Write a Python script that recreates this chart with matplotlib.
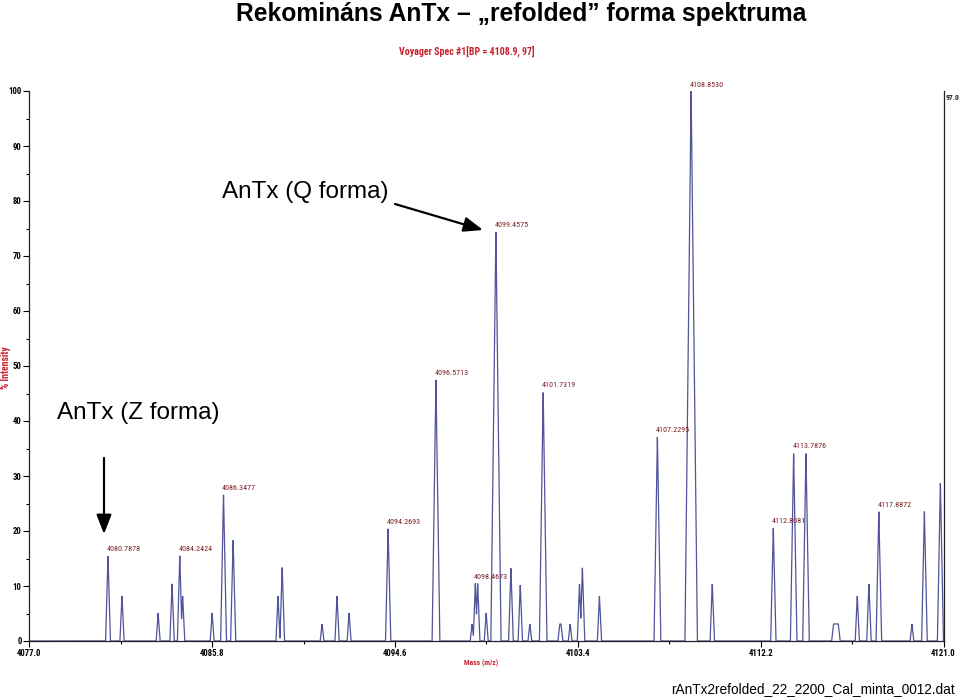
import numpy as np
import matplotlib
matplotlib.use("Agg")
import matplotlib.pyplot as plt
import matplotlib.font_manager as fm
from matplotlib.patches import FancyArrowPatch

# ---------------- data ----------------
peak_mz = [4080.7878, 4081.46, 4083.20, 4083.87, 4084.2424, 4084.38, 4085.80,
           4086.3477, 4086.81, 4088.97, 4089.17, 4091.09, 4091.81, 4092.39,
           4094.2693, 4096.5713, 4098.31, 4098.4673, 4098.58, 4098.99,
           4099.4575, 4100.18, 4100.63, 4101.09, 4101.7319, 4102.56, 4103.03,
           4103.48, 4103.62, 4104.44, 4107.2295, 4108.8530, 4109.87,
           4112.8081, 4113.7876, 4114.38, 4115.82, 4116.85, 4117.41,
           4117.8872, 4119.48, 4120.08, 4120.85]
peak_int = [15.5, 8.2, 5.1, 10.4, 15.5, 8.2, 5.1,
            26.7, 18.4, 8.2, 13.4, 3.1, 8.2, 5.1,
            20.5, 47.5, 3.1, 10.5, 10.5, 5.1,
            74.4, 13.3, 10.2, 3.1, 45.3, 3.1, 3.1,
            10.4, 13.3, 8.2, 37.1, 100.0, 10.4,
            20.6, 34.2, 34.2, 3.1, 8.2, 10.4,
            23.6, 3.1, 23.6, 28.8]
# flat-topped peaks: (centre -> top width in Da)
flat_tops = {4102.56: 0.06, 4115.82: 0.23}

labelled_mz = [4080.7878, 4084.2424, 4086.3477, 4094.2693, 4096.5713,
               4098.4673, 4099.4575, 4101.7319, 4107.2295, 4108.8530,
               4112.8081, 4113.7876, 4117.8872]

x_ticks = [4077.0, 4085.8, 4094.6, 4103.4, 4112.2, 4121.0]
y_ticks = [0, 10, 20, 30, 40, 50, 60, 70, 80, 90, 100]

title = "Rekomináns AnTx – „refolded” forma spektruma"
header = "Voyager Spec #1[BP = 4108.9, 97]"
x_label = "Mass (m/z)"
y_label = "% Intensity"
file_name = "rAnTx2refolded_22_2200_Cal_minta_0012.dat"
max_label = "97.0"

# ---------------- fonts ----------------
fonts = fm.fontManager.ttflist
names = {f.name for f in fonts}
narrow_family = None
for cand in ["Liberation Sans Narrow", "Arial Narrow", "Roboto Condensed",
             "Open Sans Condensed", "DejaVu Sans Condensed"]:
    if cand in names:
        narrow_family = cand
        break
if narrow_family is None:
    narrow_family = "Liberation Sans"
narrow = [narrow_family, "DejaVu Sans"]
arial = ["Liberation Sans", "DejaVu Sans"]

# ---------------- figure ----------------
W, H = 959, 699
fig = plt.figure(figsize=(W / 100, H / 100), dpi=100)
fig.patch.set_facecolor("white")
renderer = fig.canvas.get_renderer()


def fx(px):
    return px / W


def fy(py):
    return 1 - py / H


def fit(t, target_w, max_fs=None):
    bb = t.get_window_extent(renderer)
    fs = t.get_fontsize() * target_w / bb.width
    if max_fs is not None:
        fs = min(fs, max_fs)
    t.set_fontsize(fs)
    return t


x0, x1 = 29.3, 943.5
y_top, y_bot = 91, 641
ax = fig.add_axes([fx(x0), fy(y_bot), fx(x1) - fx(x0), fy(y_top) - fy(y_bot)])

# build profile (triangular peaks)
px_per_da = (x1 - x0) / 44.0
grid = np.linspace(4077.0, 4121.0, 30001)
prof = np.zeros_like(grid)
for m, h in zip(peak_mz, peak_int):
    hw = (1.7 + 0.045 * h) / px_per_da
    tw = flat_tops.get(m, 0.0) / 2
    d = np.maximum(np.abs(grid - m) - tw, 0)
    tri = h * np.clip(1 - d / hw, 0, 1)
    prof = np.maximum(prof, tri)

ax.plot(grid, prof, color="#50549a", lw=0.9, solid_joinstyle="miter")

ax.set_xlim(4077.0, 4121.0)
ax.set_ylim(0, 100)

ax.spines["top"].set_visible(False)
for s in ["left", "bottom", "right"]:
    ax.spines[s].set_linewidth(0.9)
    ax.spines[s].set_color("#222222")

ax.set_xticks(x_ticks)
ax.set_xticklabels([f"{v:.1f}" for v in x_ticks])
ax.set_xticks([v + 4.4 for v in x_ticks[:-1]], minor=True)
ax.set_yticks(y_ticks)
ax.set_yticklabels([str(v) for v in y_ticks])
ax.set_yticks(np.arange(5, 100, 5), minor=True)
ax.tick_params(axis="both", which="major", direction="out", length=4, width=0.8,
               pad=1.5, labelsize=6.3)
ax.tick_params(axis="both", which="minor", direction="out", length=2, width=0.8)
ax.tick_params(axis="y", which="both", right=False)
for lab in ax.get_xticklabels() + ax.get_yticklabels():
    lab.set_fontfamily(narrow)
    lab.set_fontweight("bold")

# peak labels
for m in labelled_mz:
    h = peak_int[peak_mz.index(m)]
    ax.annotate(f"{m:.4f}", xy=(m, h), xytext=(-1, 2.5),
                textcoords="offset points", ha="left", va="bottom",
                fontsize=5.8, color="#7a1f24", family=narrow,
                annotation_clip=False)

ax.text(1.0025, 0.995, max_label, transform=ax.transAxes, ha="left", va="top",
        fontsize=5.5, fontweight="bold", family=narrow, color="#222222")

# headers and axis labels
fig.text(fx(521.5), fy(21), title, ha="center", va="baseline", fontsize=17.7,
         fontweight="bold", family=arial)
th = fig.text(fx(467), fy(51), header, ha="center", va="center", fontsize=7,
              fontweight="bold", family=narrow, color="#c8202e")
fit(th, 136)
tx = fig.text(fx(481), fy(663), x_label, ha="center", va="center", fontsize=6,
              fontweight="bold", family=narrow, color="#c8202e")
fit(tx, 34, max_fs=6.5)
fig.text(fx(6), fy(368), y_label, ha="center", va="center", rotation=90,
         fontsize=7, fontweight="bold", family=narrow, color="#c8202e")
tf = fig.text(fx(955), fy(693), file_name, ha="right", va="baseline",
              fontsize=11, family=arial)
fit(tf, 282)

# annotations with arrows
fig.text(fx(222), fy(192), "AnTx (Q forma)", ha="left", va="center",
         fontsize=17.5, family=arial)
fig.text(fx(57), fy(413), "AnTx (Z forma)", ha="left", va="center",
         fontsize=17.5, family=arial)
arrow = dict(arrowstyle="-|>,head_length=0.9,head_width=0.35", color="black",
             lw=1.6, shrinkA=0, shrinkB=0, mutation_scale=13)
fig.add_artist(FancyArrowPatch((fx(395), fy(204)), (fx(483), fy(230)),
                               transform=fig.transFigure, **arrow))
fig.add_artist(FancyArrowPatch((fx(104), fy(458)), (fx(104), fy(534)),
                               transform=fig.transFigure, **arrow))

fig.savefig("out.png", dpi=100)
